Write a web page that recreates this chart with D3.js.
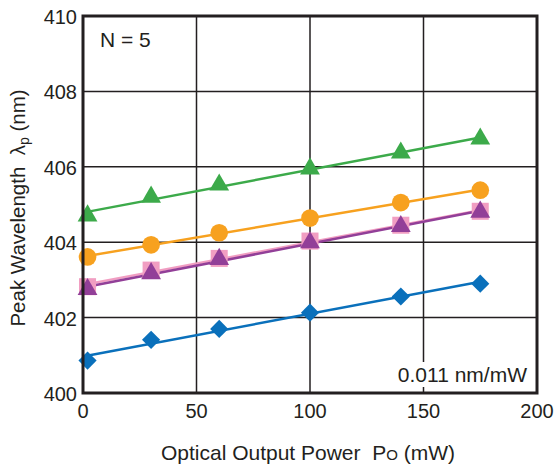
<!DOCTYPE html>
<html>
<head>
<meta charset="utf-8">
<script src="https://cdn.jsdelivr.net/npm/d3@7"></script>
<style>
  body { margin: 0; background: #fff; }
  text { font-family: "Liberation Sans", Arial, sans-serif; fill: #231f20; white-space: pre; }
</style>
</head>
<body>
<div id="chart"></div>
<script>
// measured optical output power (mW)
const power = [2, 30, 60, 100, 140, 175]

// peak wavelength per sample (nm)
const blueValues   = [400.86, 401.41, 401.70, 402.13, 402.56, 402.90]
const greenValues  = [404.70, 405.20, 405.52, 405.95, 406.37, 406.74]
const orangeValues = [403.61, 403.93, 404.25, 404.64, 405.05, 405.38]
const pinkValues   = [402.82, 403.26, 403.57, 404.03, 404.45, 404.82]
const purpleValues = [402.75, 403.17, 403.55, 403.99, 404.42, 404.80]

const xTicks = [0, 50, 100, 150, 200]
const yTicks = [400, 402, 404, 406, 408, 410]

let series = [
	{ values: blueValues,   color: '#0a70bb', shape: 'diamond' },
	{ values: greenValues,  color: '#3caa4a', shape: 'triangle' },
	{ values: orangeValues, color: '#f7a11f', shape: 'circle' },
	{ values: pinkValues,   color: '#f19ec2', shape: 'square' },
	{ values: purpleValues, color: '#923f98', shape: 'triangle' }
]

let width = 557, height = 468
let margin = { left: 83, right: 20, top: 16, bottom: 75 }

let svg = d3.select('#chart')
	.append('svg')
	.attr('width', width)
	.attr('height', height)

let x = d3.scaleLinear().domain([0, 200]).range([margin.left, width - margin.right])
let y = d3.scaleLinear().domain([400, 410]).range([height - margin.bottom, margin.top])

// grid
svg.append('g')
	.selectAll('line')
	.data(xTicks.slice(1, -1))
	.enter().append('line')
	.attr('x1', d => x(d)).attr('x2', d => x(d))
	.attr('y1', y(400)).attr('y2', y(410))
	.attr('stroke', '#231f20').attr('stroke-width', 1.5)

svg.append('g')
	.selectAll('line')
	.data(yTicks.slice(1, -1))
	.enter().append('line')
	.attr('x1', x(0)).attr('x2', x(200))
	.attr('y1', d => y(d)).attr('y2', d => y(d))
	.attr('stroke', '#231f20').attr('stroke-width', 1.5)

// slope label, white box hides the grid behind it
let note = svg.append('g')
note.append('rect')
	.attr('x', x(200) - 145).attr('y', y(400) - 31)
	.attr('width', 140).attr('height', 25)
	.attr('fill', '#fff')
note.append('text')
	.attr('x', x(200) - 10).attr('y', y(400) - 11)
	.attr('text-anchor', 'end')
	.attr('font-size', 21)
	.text('0.011 nm/mW')

svg.append('text')
	.attr('x', x(0) + 17).attr('y', y(410) + 31)
	.attr('font-size', 21)
	.text('N = 5')

// fitted lines + markers
let symbolFor = {
	diamond: d3.symbol().type(d3.symbolSquare).size(165),
	triangle: d3.symbol().type(d3.symbolTriangle).size(170),
	circle: d3.symbol().type(d3.symbolCircle).size(245),
	square: d3.symbol().type(d3.symbolSquare).size(290)
}

function fit(xs, ys) {
	let mx = d3.mean(xs), my = d3.mean(ys)
	let num = d3.sum(xs, (v, i) => (v - mx) * (ys[i] - my))
	let den = d3.sum(xs, v => (v - mx) * (v - mx))
	let b = num / den
	return v => my + b * (v - mx)
}

let lastP = power[power.length - 1]

series.forEach(s => {
	let f = fit(power, s.values)
	svg.append('line')
		.attr('x1', x(0)).attr('y1', y(f(0)))
		.attr('x2', x(lastP)).attr('y2', y(f(lastP)))
		.attr('stroke', s.color)
		.attr('stroke-width', 2.5)
})

series.forEach(s => {
	svg.append('g')
		.selectAll('path')
		.data(s.values)
		.enter().append('path')
		.attr('transform', (d, i) => `translate(${x(power[i])},${y(d)})` + (s.shape == 'diamond' ? ' rotate(45)' : ''))
		.attr('d', symbolFor[s.shape])
		.attr('fill', s.color)
})

// frame
svg.append('rect')
	.attr('x', x(0)).attr('y', y(410))
	.attr('width', x(200) - x(0)).attr('height', y(400) - y(410))
	.attr('fill', 'none')
	.attr('stroke', '#231f20')
	.attr('stroke-width', 3)

// tick labels
svg.append('g')
	.selectAll('text')
	.data(xTicks)
	.enter().append('text')
	.attr('x', d => x(d)).attr('y', y(400) + 25)
	.attr('text-anchor', 'middle')
	.attr('font-size', 20)
	.text(d => d)

svg.append('g')
	.selectAll('text')
	.data(yTicks)
	.enter().append('text')
	.attr('x', x(0) - 6).attr('y', d => y(d) + 8)
	.attr('text-anchor', 'end')
	.attr('font-size', 20)
	.text(d => d)

// axis titles
let xt = svg.append('text')
	.attr('x', 308).attr('y', 460)
	.attr('text-anchor', 'middle')
	.attr('font-size', 21)
xt.append('tspan').text('Optical Output Power  P')
xt.append('tspan').attr('font-size', 15).text('O')
xt.append('tspan').text(' (mW)')

let yt = svg.append('text')
	.attr('transform', `translate(25,208) rotate(-90)`)
	.attr('text-anchor', 'middle')
	.attr('font-size', 20.5)
yt.append('tspan').text('Peak Wavelength  λ')
yt.append('tspan').attr('font-size', 14).attr('dy', 4).text('p')
yt.append('tspan').attr('dy', -4).text(' (nm)')
</script>
</body>
</html>
